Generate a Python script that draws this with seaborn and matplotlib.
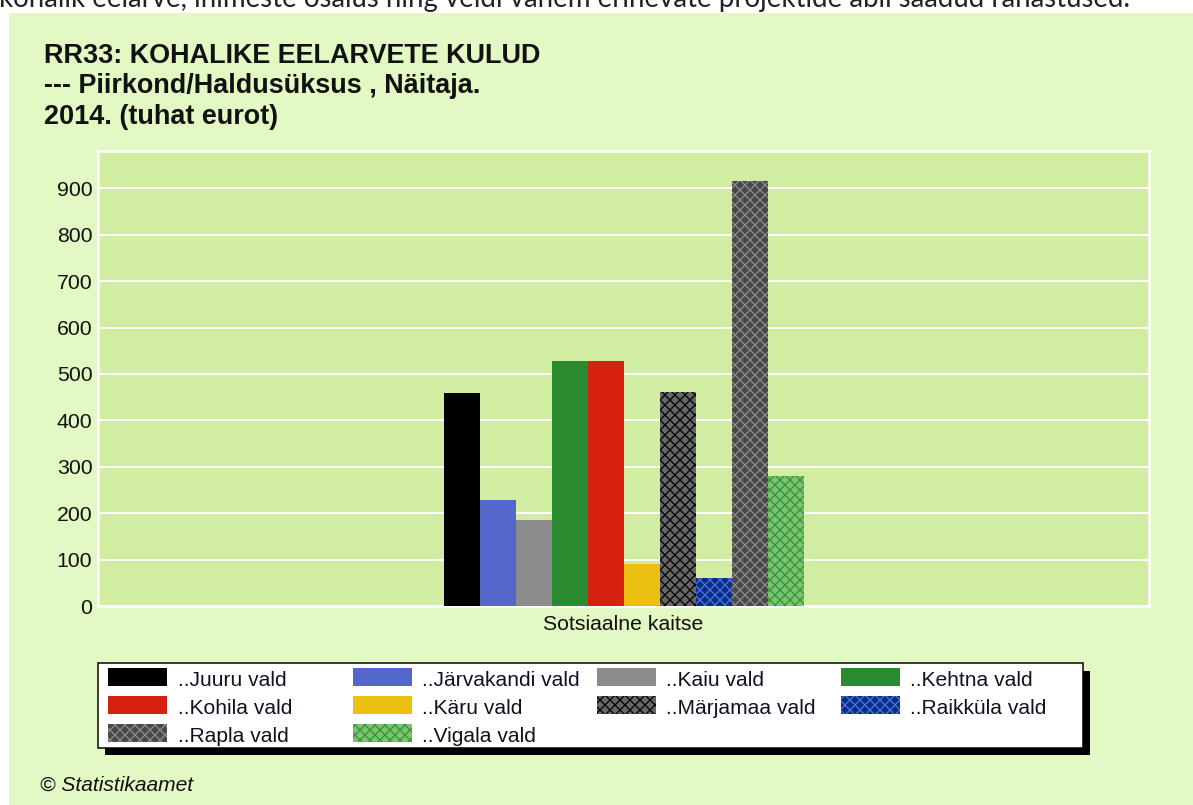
import pandas as pd
import seaborn as sns
import matplotlib
matplotlib.use("Agg")
import matplotlib.pyplot as plt
from matplotlib.patches import Rectangle

# andmed (tuhat eurot, 2014)
kategooria = "Sotsiaalne kaitse"
vallad = ["..Juuru vald", "..Järvakandi vald", "..Kaiu vald", "..Kehtna vald",
          "..Kohila vald", "..Käru vald", "..Märjamaa vald", "..Raikküla vald",
          "..Rapla vald", "..Vigala vald"]
kulud = [458, 229, 186, 527, 527, 91, 462, 60, 915, 281]
y_ticks = [0, 100, 200, 300, 400, 500, 600, 700, 800, 900]

# värvid ja viirutused
varvid = ["#000000", "#5468CC", "#8C8C8C", "#2A8A30", "#D62110",
          "#ECC010", "#666666", "#00308A", "#484848", "#80C070"]
viirud = [None, None, None, None, None, None, "#000000", "#5A6ED8", "#8C8C8C", "#2A9A38"]
HATCH = "xx"

W, H, DPI = 1193, 805, 60
PANEL = "#E2F9C4"
PLOT = "#D1EDA1"


def px(v):
    # pikslid -> punktid
    return v * 72 / DPI


def fx(x):
    return x / W


def fy(y):
    return 1 - y / H


sns.set_theme(style="white")
plt.rcParams["font.family"] = ["Liberation Sans", "DejaVu Sans"]
plt.rcParams["hatch.linewidth"] = px(1.3)

fig = plt.figure(figsize=(W / DPI, H / DPI), dpi=DPI, facecolor="white")

# heleroheline taust
fig.patches.append(Rectangle((fx(9), 0), 1, fy(13), transform=fig.transFigure,
                             facecolor=PANEL, edgecolor="none", zorder=-5))

# ülevalt poolikult näha jääv lause (originaalis ära lõigatud)
top = fig.text(fx(-1), fy(7.3), "kohalik eelarve, inimeste osalus ning veidi vähem erinevate "
               "projektide abil saadud rahastused.", fontsize=px(26), family=["Lato", "DejaVu Sans"],
               va="baseline", ha="left", color="#222222")
fig.canvas.draw()
w = top.get_window_extent().width
top.set_fontsize(px(26) * 1133 / w)

# pealkiri
for i, rida in enumerate(["RR33: KOHALIKE EELARVETE KULUD",
                          "--- Piirkond/Haldusüksus , Näitaja.",
                          "2014. (tuhat eurot)"]):
    fig.text(fx(44), fy(62.7 + i * 30.7), rida, fontsize=px(27), fontweight="bold",
             va="baseline", ha="left", color="#111111")

ax = fig.add_axes([fx(98.3), fy(606), (1149 - 98.3) / W, (606 - 150.7) / H])
ax.set_facecolor(PLOT)

df = pd.DataFrame({"kategooria": [kategooria] * len(vallad), "vald": vallad, "kulud": kulud})
sns.barplot(data=df, x="kategooria", y="kulud", hue="vald", hue_order=vallad,
            palette=varvid, saturation=1, width=0.3425, gap=0, errorbar=None,
            legend=False, ax=ax, zorder=3)

for cont, hc in zip(ax.containers, viirud):
    for bar in cont:
        bar.set_linewidth(0)
        if hc:
            bar.set_hatch(HATCH)
            bar.set_edgecolor(hc)

ax.set_xlim(-0.5, 0.5)
ax.set_ylim(0, 981)
ax.set_yticks(y_ticks)
ax.set_xlabel("")
ax.set_ylabel("")
ax.set_axisbelow(True)
ax.yaxis.grid(True, color="white", linewidth=px(2))
ax.xaxis.grid(False)
for s in ax.spines.values():
    s.set_visible(True)
    s.set_color("white")
    s.set_linewidth(px(2.5))
ax.tick_params(axis="y", length=0, pad=px(6), labelsize=px(21.3), labelcolor="#111111")
ax.tick_params(axis="x", length=0, pad=px(9), labelsize=px(21.3), labelcolor="#111111")

# legend käsitsi, nagu originaalis: varjuga kast, 4 veergu
fig.patches.append(Rectangle((fx(105.2), fy(755.2)), (1082.7 - 97.7) / W, (747.7 - 663.3) / H,
                             transform=fig.transFigure, facecolor="black", edgecolor="none", zorder=1))
fig.patches.append(Rectangle((fx(97.7), fy(747.7)), (1082.7 - 97.7) / W, (747.7 - 663.3) / H,
                             transform=fig.transFigure, facecolor="white", edgecolor="black",
                             linewidth=px(1.5), zorder=2))
veerud = [108.3, 352.5, 596.5, 840.5]
for i, (nimi, c, hc) in enumerate(zip(vallad, varvid, viirud)):
    r, k = divmod(i, 4)
    x0 = veerud[k]
    y0 = 668 + r * 28
    fig.patches.append(Rectangle((fx(x0), fy(y0 + 18)), 59 / W, 18 / H, transform=fig.transFigure,
                                 facecolor=c, edgecolor=hc if hc else "none", linewidth=0,
                                 hatch=HATCH if hc else None, zorder=3))
    fig.text(fx(x0 + 69.5), fy(y0 + 18), nimi, fontsize=px(21), va="baseline", ha="left",
             color="#111122", zorder=4)

fig.text(fx(40), fy(791), "© Statistikaamet", fontsize=px(21), style="italic",
         va="baseline", ha="left", color="#111111")

fig.savefig("out.png", dpi=DPI, facecolor=fig.get_facecolor())
